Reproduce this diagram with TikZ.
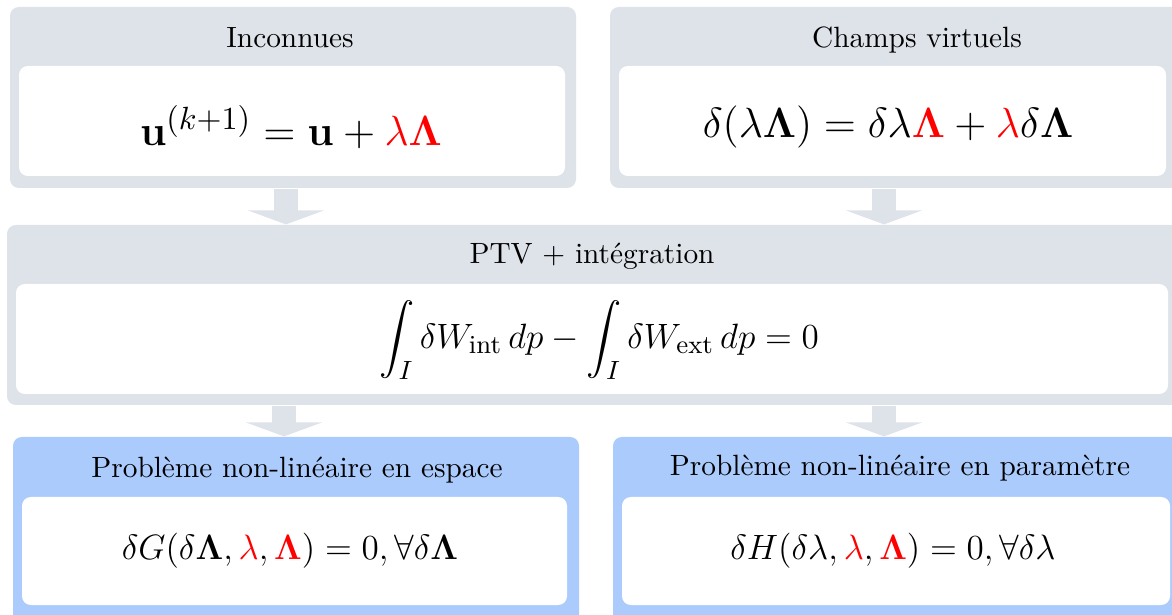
\documentclass[tikz,border=0pt]{standalone}
\usepackage{amsmath}
\usetikzlibrary{fit,arrows.meta}
\definecolor{boxgray}{HTML}{DEE2E9}
\definecolor{boxblue}{HTML}{ABCBFD}
\begin{document}
\begin{tikzpicture}[x=0.341pt,y=-0.341pt,
  outerbox/.style={inner sep=0pt, rounded corners=3pt, fill=boxgray},
  bluebox/.style={inner sep=0pt, rounded corners=3pt, fill=boxblue},
  innerbox/.style={inner sep=0pt, rounded corners=3pt, fill=white},
  title/.style={font=\normalsize, inner sep=0pt},
  formula/.style={font=\fontsize{#1}{18}\selectfont, inner sep=0pt},
  flow/.style={draw=boxgray, line width=8.2pt, -{Triangle[width=26pt,length=4.8pt]}}
]
\useasboundingbox (0,0) rectangle (1172,615);
\clip (0,0) rectangle (1172,615);

% top left
\node[fit={(10,7) (576,188)}, outerbox] (tl) {};
\node[fit={(19,66) (565,176)}, innerbox] (tli) {};
\node[title] (tlt) at (290,38) {Inconnues};
\node[formula=15] (tlf) at (291,127) {$\mathbf{u}^{(k+1)} = \mathbf{u} + \textcolor{red}{\lambda\mathbf{\Lambda}}$};

% top right
\node[fit={(610,7) (1180,188)}, outerbox] (tr) {};
\node[fit={(619,66) (1166,176)}, innerbox] (tri) {};
\node[title] (trt) at (917,40) {Champs virtuels};
\node[formula=15] (trf) at (888,127) {$\delta(\lambda\mathbf{\Lambda}) = \delta\lambda\textcolor{red}{\mathbf{\Lambda}} + \textcolor{red}{\lambda}\delta\mathbf{\Lambda}$};

% middle
\node[fit={(7,225) (1180,405)}, outerbox] (mid) {};
\node[fit={(16,284) (1168,394)}, innerbox] (midi) {};
\node[title] (midt) at (592,256) {PTV + intégration};
\node[formula=12.7] (midf) at (599,340) {$\displaystyle\int_I \delta W_{\text{int}}\, dp - \int_I \delta W_{\text{ext}}\, dp = 0$};

% bottom left
\node[fit={(13,437) (579,625)}, bluebox] (bl) {};
\node[fit={(22,497) (567,605)}, innerbox] (bli) {};
\node[title] (blt) at (297,470) {Problème non-linéaire en espace};
\node[formula=13] (blf) at (290,551) {$\delta G(\delta\mathbf{\Lambda}, \textcolor{red}{\lambda}, \textcolor{red}{\mathbf{\Lambda}}) = 0, \forall\delta\mathbf{\Lambda}$};

% bottom right
\node[fit={(613,437) (1182,625)}, bluebox] (br) {};
\node[fit={(622,497) (1170,605)}, innerbox] (bri) {};
\node[title] (brt) at (900,468) {Problème non-linéaire en paramètre};
\node[formula=13] (brf) at (893,551) {$\delta H(\delta\lambda, \textcolor{red}{\lambda}, \textcolor{red}{\mathbf{\Lambda}}) = 0, \forall\delta\lambda$};

% arrows
\coordinate (a1) at (286,0);
\coordinate (a2) at (884,0);
\coordinate (a3) at (284,0);
\draw[flow] (tl.south -| a1) -- (mid.north -| a1);
\draw[flow] (tr.south -| a2) -- (mid.north -| a2);
\draw[flow] (mid.south -| a3) -- (bl.north -| a3);
\draw[flow] (mid.south -| a2) -- (br.north -| a2);
\end{tikzpicture}
\end{document}
